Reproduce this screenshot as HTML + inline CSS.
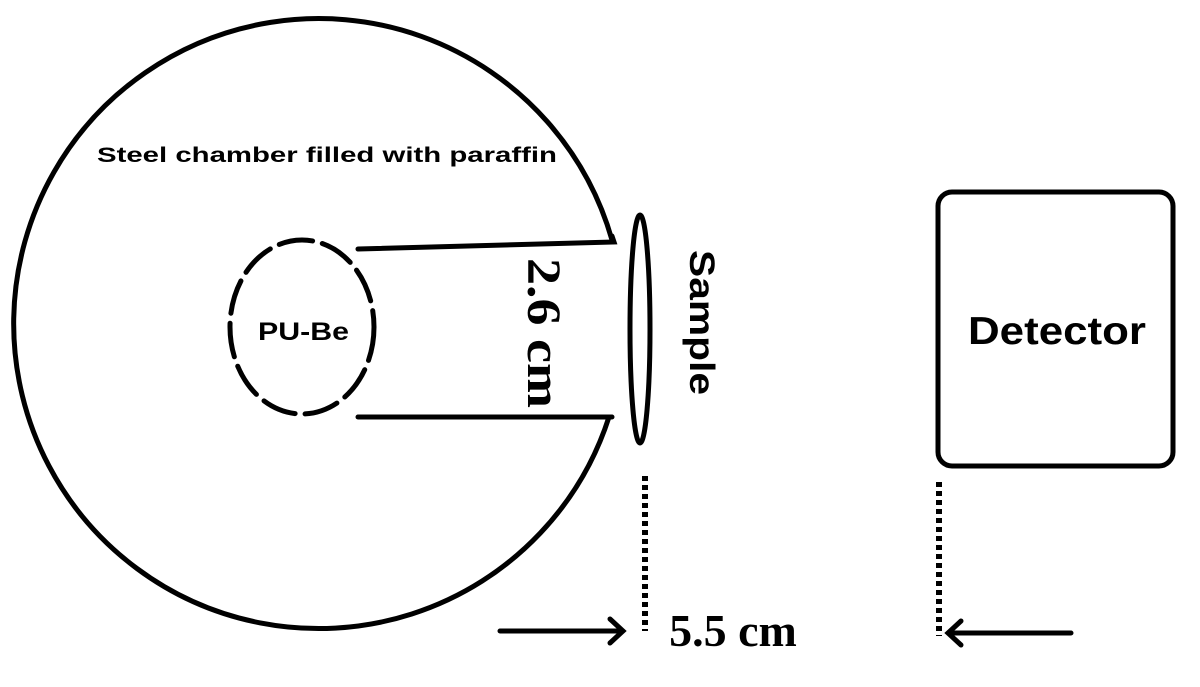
<!DOCTYPE html>
<html><head><style>body{margin:0;background:#fff}</style></head><body>
<svg width="1200" height="682" viewBox="0 0 1200 682" xmlns="http://www.w3.org/2000/svg">
<g fill="none" stroke="#000" stroke-width="5" stroke-linecap="round">
<path d="M612,240 A305,305 0 1 0 609,417"/>
<path d="M358,249 L614,242 L612,236"/>
<path d="M358,417 L612,417"/>
<ellipse cx="302" cy="327" rx="72" ry="87" stroke-dasharray="34,10"/>
<ellipse cx="640" cy="329" rx="10" ry="114"/>
<rect x="938" y="192" width="235" height="274" rx="14"/>
<path d="M500,631 L622,631 M610,619 L623,631 L610,643"/>
<path d="M1071,633 L949,633 M961,621 L948,633 L961,645"/>
</g>
<g stroke="#000" stroke-width="6" stroke-dasharray="5,4">
<line x1="645" y1="476" x2="645" y2="631"/>
<line x1="939" y1="482" x2="939" y2="636"/>
</g>
<text x="97" y="162" textLength="460" lengthAdjust="spacingAndGlyphs" font-family="Liberation Sans,sans-serif" font-weight="bold" font-size="21">Steel chamber filled with paraffin</text>
<text x="258" y="340" textLength="91" lengthAdjust="spacingAndGlyphs" font-family="Liberation Sans,sans-serif" font-weight="bold" font-size="25">PU-Be</text>
<text x="968" y="344" textLength="178" lengthAdjust="spacingAndGlyphs" font-family="Liberation Sans,sans-serif" font-weight="bold" font-size="39">Detector</text>
<text transform="translate(690,250) rotate(90)" textLength="145" lengthAdjust="spacingAndGlyphs" font-family="Liberation Sans,sans-serif" font-size="35" font-weight="bold">Sample</text>
<text transform="translate(528,258) rotate(90)" textLength="150" lengthAdjust="spacingAndGlyphs" font-family="Liberation Serif,serif" font-size="48" font-weight="bold">2.6 cm</text>
<text x="733" y="646" text-anchor="middle" font-family="Liberation Serif,serif" font-size="46" font-weight="bold">5.5 cm</text>
</svg>
</body></html>
